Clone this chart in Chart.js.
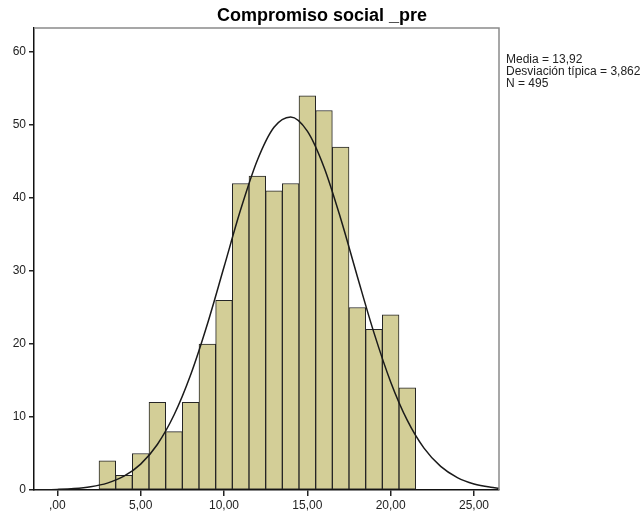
<!DOCTYPE html>
<html><head><meta charset="utf-8">
<script src="https://cdn.jsdelivr.net/npm/chart.js@4"></script>
<style>html,body{margin:0;padding:0;background:#fff}#wrap{width:644px;height:515px}</style>
</head><body><div id="wrap"><canvas id="c" width="644" height="515"></canvas></div>
<script>
const chartTitle = "Compromiso social _pre";
const statsLines = ["Media = 13,92", "Desviación típica = 3,862", "N = 495"];
const binCenters = [3, 4, 5, 6, 7, 8, 9, 10, 11, 12, 13, 14, 15, 16, 17, 18, 19, 20, 21];
const counts = [4, 2, 5, 12, 8, 12, 20, 26, 42, 43, 41, 42, 54, 52, 47, 25, 22, 24, 14];
const curveX = [-1.4, -1, 0, 1, 2, 3, 4, 5, 6, 7, 8, 9, 10, 11, 12, 13, 14, 15, 16, 17, 18, 19, 20, 21, 22, 23, 24, 25, 26, 26.5];
const curveY = [0.02, 0.03, 0.08, 0.19, 0.44, 0.94, 1.89, 3.55, 6.24, 10.27, 15.79, 22.71, 30.55, 38.42, 45.18, 49.70, 51.12, 49.17, 44.23, 37.20, 29.26, 21.53, 14.81, 9.53, 5.73, 3.23, 1.70, 0.83, 0.38, 0.25];
const xTicks = [0, 5, 10, 15, 20, 25];
const yTicks = [0, 10, 20, 30, 40, 50, 60];

const fmt = v => v === 0 ? ',00' : v.toFixed(2).replace('.', ',');
const FONT = "'Liberation Sans', Arial, sans-serif";

const decor = {
  id: 'decor',
  afterDraw(chart) {
    const ctx = chart.ctx, a = chart.chartArea;
    ctx.save();
    ctx.strokeStyle = '#8a8a8a';
    ctx.lineWidth = 1.5;
    ctx.beginPath();
    ctx.moveTo(a.left, a.top);
    ctx.lineTo(a.right, a.top);
    ctx.lineTo(a.right, a.bottom);
    ctx.stroke();
    ctx.fillStyle = '#000';
    ctx.font = "bold 18px " + FONT;
    ctx.textAlign = 'center';
    ctx.textBaseline = 'alphabetic';
    ctx.fillText(chartTitle, 322, 21);
    ctx.font = "12px " + FONT;
    ctx.fillStyle = '#222';
    ctx.textAlign = 'left';
    statsLines.forEach((t, i) => ctx.fillText(t, 506, 63 + i * 12));
    ctx.restore();
  }
};

new Chart(document.getElementById('c'), {
  type: 'bar',
  data: {
    datasets: [
      {
        type: 'line',
        order: 0,
        data: curveX.map((x, i) => ({ x: x, y: curveY[i] })),
        borderColor: '#1a1a1a',
        borderWidth: 1.5,
        pointRadius: 0,
        fill: false,
        cubicInterpolationMode: 'monotone'
      },
      {
        type: 'bar',
        order: 1,
        data: binCenters.map((x, i) => ({ x: x, y: counts[i] })),
        backgroundColor: '#d3ce97',
        borderColor: '#262626',
        borderWidth: 1,
        borderSkipped: false,
        barPercentage: 1,
        categoryPercentage: 1
      }
    ]
  },
  options: {
    responsive: false,
    devicePixelRatio: 1,
    animation: false,
    layout: { padding: { top: 28, right: 145, left: 0, bottom: 0 } },
    plugins: { legend: { display: false }, tooltip: { enabled: false }, title: { display: false } },
    scales: {
      x: {
        type: 'linear',
        offset: false,
        min: -1.4,
        max: 26.5,
        afterBuildTicks: s => { s.ticks = xTicks.map(v => ({ value: v })); },
        afterFit: s => { s.height = 25; },
        ticks: { callback: v => fmt(v), font: { size: 12, family: FONT }, color: '#222', padding: 2, maxRotation: 0, autoSkip: false },
        grid: { offset: false, drawOnChartArea: false, drawTicks: true, tickLength: 6, color: '#222', lineWidth: 1.5 },
        border: { color: '#111', width: 1.5 }
      },
      y: {
        min: 0,
        max: 63.3,
        afterBuildTicks: s => { s.ticks = yTicks.map(v => ({ value: v })); },
        afterFit: s => { s.width = 34; },
        ticks: { font: { size: 12, family: FONT }, color: '#222', padding: 3 },
        grid: { drawOnChartArea: false, drawTicks: true, tickLength: 5, color: '#222', lineWidth: 1.5 },
        border: { color: '#111', width: 1.5 }
      }
    }
  },
  plugins: [decor]
});
</script>
</body></html>
